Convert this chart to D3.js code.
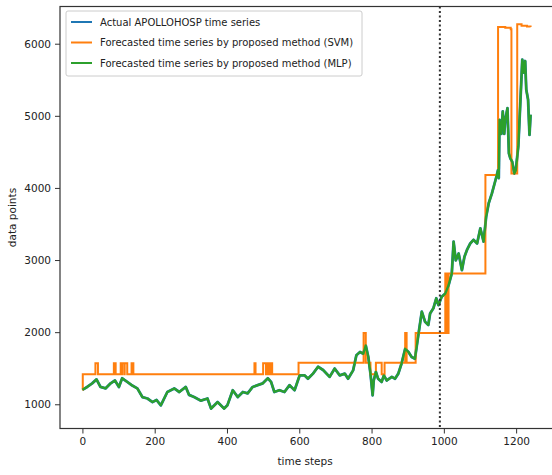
<!DOCTYPE html>
<html>
<head>
<meta charset="utf-8">
<script src="https://cdn.jsdelivr.net/npm/d3@7"></script>
<style>
  body { margin: 0; background: #fff; }
  svg { font-family: 'DejaVu Sans', sans-serif; }
</style>
</head>
<body>
<svg id="chart" width="552" height="475"></svg>
<script>
// time step / value pairs (actual + MLP overlap almost everywhere)
const actualT = [0, 13, 27, 39, 50, 64, 78, 90, 101, 110, 124, 138, 152, 166, 180, 194, 205, 217, 235, 254,
  268, 286, 295, 309, 328, 346, 356, 374, 392, 401, 416, 430, 444, 457, 471, 485, 499, 513, 522, 531,
  545, 559, 573, 587, 601, 615, 624, 638, 652, 666, 684, 698, 712, 726, 735, 749, 758, 768, 777, 784,
  791, 797, 803, 806, 812, 818, 828, 834, 842, 856, 865, 874, 883, 893, 902, 911, 920, 930, 939, 948,
  957, 962, 971, 979, 985, 994, 1004, 1013, 1022, 1027, 1033, 1041, 1050, 1057, 1064, 1073, 1082, 1092, 1101, 1110,
  1117, 1124, 1133, 1143, 1150, 1152, 1154, 1159, 1163, 1167, 1170, 1176, 1180, 1184, 1189, 1195, 1199, 1206, 1212, 1217,
  1221, 1225, 1228, 1233, 1237, 1240]
const actualV = [1200, 1240, 1290, 1345, 1240, 1220, 1290, 1330, 1240, 1360, 1310, 1260, 1220, 1100, 1080, 1030, 1060, 985, 1170, 1220,
  1170, 1240, 1130, 1100, 1050, 1080, 940, 1030, 940, 985, 1195, 1100, 1170, 1150, 1240, 1265, 1290, 1360, 1310, 1170,
  1195, 1170, 1265, 1195, 1400, 1400, 1355, 1425, 1520, 1475, 1380, 1495, 1400, 1425, 1355, 1470, 1680, 1725, 1700, 1815,
  1655, 1425, 1125, 1330, 1450, 1355, 1310, 1400, 1330, 1380, 1355, 1425, 1565, 1770, 1725, 1655, 1630, 1980, 2285, 2145,
  2100, 2260, 2330, 2470, 2375, 2490, 2535, 2650, 2815, 3255, 2995, 3090, 2860, 3045, 3140, 3230, 3280, 3230, 3440, 3255,
  3600, 3785, 3925, 4110, 4250, 4135, 4945, 4750, 5060, 4750, 4945, 5105, 4480, 4410, 4365, 4200, 4245, 4575, 5225, 5780,
  5600, 5760, 5365, 5225, 4735, 5015]
const mlpV = actualV.slice()

// SVM forecast: step changes (time step where the level starts, level)
const svmT = [0, 1, 36, 43, 87, 92, 106, 108, 110, 116, 117, 124, 136, 141, 476, 479, 500, 508, 510, 515,
  520, 525, 598, 778, 784, 797, 812, 828, 836, 893, 897, 922, 1004, 1006, 1009, 1011, 1013, 1115, 1150, 1170,
  1185, 1187, 1203, 1215, 1230, 1240]
const svmV = [1200, 1415, 1570, 1415, 1570, 1415, 1570, 1415, 1570, 1415, 1570, 1415, 1570, 1415, 1570, 1415, 1570, 1415, 1570, 1415,
  1570, 1415, 1575, 1990, 1575, 1415, 1575, 1415, 1575, 1990, 1575, 1990, 2815, 1990, 2815, 1990, 2815, 4180, 6230, 6220,
  6200, 4200, 6270, 6250, 6240, 6230]

const splitStep = 989
const xTicks = [0, 200, 400, 600, 800, 1000, 1200]
const yTicks = [1000, 2000, 3000, 4000, 5000, 6000]
const legendLabels = [
  'Actual APOLLOHOSP time series',
  'Forecasted time series by proposed method (SVM)',
  'Forecasted time series by proposed method (MLP)',
]
const colors = ['#1f77b4', '#ff7f0e', '#2ca02c']

const svg = d3.select('#chart')
const plotLeft = 60
const plotRight = 553
const plotTop = 6.5
const plotBottom = 428.5

const x = d3.scaleLinear().domain([-62, 1302]).range([plotLeft, plotRight])
const y = d3.scaleLinear().domain([664, 6516]).range([plotBottom, plotTop])

const plot = svg.append('g')

const line = d3.line()
  .x((d) => x(d[0]))
  .y((d) => y(d[1]))

const actual = actualT.map((t, i) => [t, actualV[i]])
const mlp = actualT.map((t, i) => [t, mlpV[i]])
const svm = svmT.map((t, i) => [t, svmV[i]])

plot.append('path')
  .datum(actual)
  .attr('fill', 'none')
  .attr('stroke', colors[0])
  .attr('stroke-width', 2.8)
  .attr('stroke-linejoin', 'round')
  .attr('d', line)

plot.append('path')
  .datum(svm)
  .attr('fill', 'none')
  .attr('stroke', colors[1])
  .attr('stroke-width', 2)
  .attr('d', d3.line().x((d) => x(d[0])).y((d) => y(d[1])).curve(d3.curveStepAfter))

plot.append('path')
  .datum(mlp)
  .attr('fill', 'none')
  .attr('stroke', colors[2])
  .attr('stroke-width', 2.3)
  .attr('stroke-linejoin', 'round')
  .attr('d', line)

// train / test split
plot.append('line')
  .attr('x1', x(splitStep))
  .attr('x2', x(splitStep))
  .attr('y1', plotTop)
  .attr('y2', plotBottom)
  .attr('stroke', '#333')
  .attr('stroke-width', 2)
  .attr('stroke-dasharray', '2,2.5')

// spines
svg.append('rect')
  .attr('x', plotLeft)
  .attr('y', plotTop)
  .attr('width', plotRight - plotLeft)
  .attr('height', plotBottom - plotTop)
  .attr('fill', 'none')
  .attr('stroke', '#333')
  .attr('stroke-width', 1.2)

const xAxis = svg.append('g')
  .attr('transform', `translate(0,${plotBottom})`)
  .call(d3.axisBottom(x).tickValues(xTicks).tickSize(5).tickPadding(4).tickFormat(d3.format('d')))
xAxis.select('.domain').remove()

const yAxis = svg.append('g')
  .attr('transform', `translate(${plotLeft},0)`)
  .call(d3.axisLeft(y).tickValues(yTicks).tickSize(5).tickPadding(4).tickFormat(d3.format('d')))
yAxis.select('.domain').remove()

svg.selectAll('.tick text')
  .attr('font-family', 'DejaVu Sans')
  .attr('font-size', 10.5)
  .attr('fill', '#222')
svg.selectAll('.tick line').attr('stroke', '#333')

svg.append('text')
  .attr('x', 305)
  .attr('y', 465)
  .attr('text-anchor', 'middle')
  .attr('font-size', 10.5)
  .attr('fill', '#222')
  .text('time steps')

svg.append('text')
  .attr('transform', `translate(16,${(plotTop + plotBottom) / 2}) rotate(-90)`)
  .attr('text-anchor', 'middle')
  .attr('font-size', 10.5)
  .attr('fill', '#222')
  .text('data points')

// legend
const legend = svg.append('g').attr('transform', 'translate(66,11)')
legend.append('rect')
  .attr('width', 296)
  .attr('height', 65)
  .attr('rx', 2)
  .attr('fill', 'rgba(255,255,255,0.8)')
  .attr('stroke', '#ccc')

legendLabels.forEach((label, i) => {
  const row = legend.append('g').attr('transform', `translate(0,${11 + i * 20.5})`)
  row.append('line')
    .attr('x1', 5)
    .attr('x2', 26)
    .attr('stroke', colors[i])
    .attr('stroke-width', 2)
  row.append('text')
    .attr('x', 34)
    .attr('y', 3.5)
    .attr('font-size', 10)
    .attr('fill', '#222')
    .text(label)
})
</script>
</body>
</html>
